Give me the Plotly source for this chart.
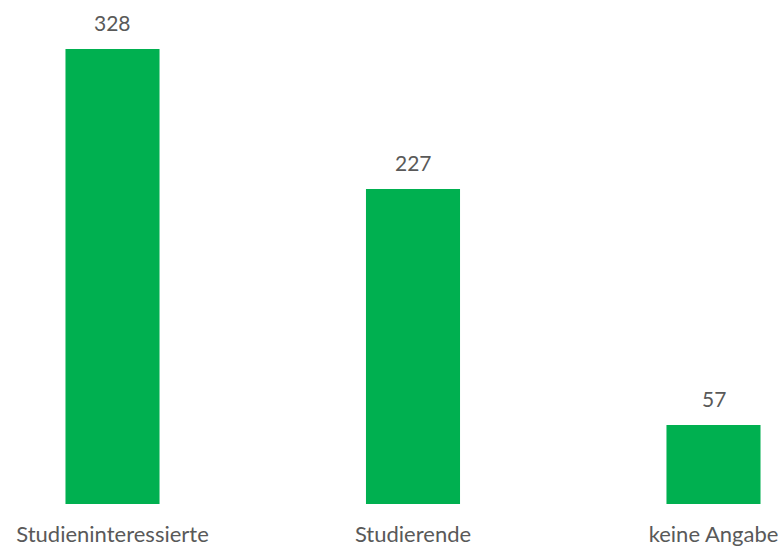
import plotly.graph_objects as go

categories = ["Studieninteressierte", "Studierende", "keine Angabe"]
values = [328, 227, 57]

FONT = "Lato, Open Sans, sans-serif"
TXT = "#595959"

fig = go.Figure()
fig.add_trace(go.Bar(
    x=categories, y=values, width=0.313,
    marker=dict(color="#00B050", line=dict(width=0)),
    hoverinfo="skip",
))
for c, v in zip(categories, values):
    fig.add_annotation(x=c, y=v, text=str(v), showarrow=False, yanchor="bottom",
                       yshift=12, font=dict(family=FONT, size=21, color=TXT))

fig.update_layout(
    width=783, height=551,
    margin=dict(l=0, r=0, t=20, b=47, pad=0),
    paper_bgcolor="white", plot_bgcolor="white",
    font=dict(family=FONT, size=22, color=TXT),
    showlegend=False,
    xaxis=dict(range=[-0.3744, 2.2313], showgrid=False, zeroline=False, showline=False,
               ticks="", ticklabelstandoff=15,
               tickfont=dict(family=FONT, size=22, color=TXT)),
    yaxis=dict(range=[0, 348.9], visible=False),
)
fig.write_html("out.html", config={"displayModeBar": False, "staticPlot": True},
               post_script="document.body.style.margin='0';")
